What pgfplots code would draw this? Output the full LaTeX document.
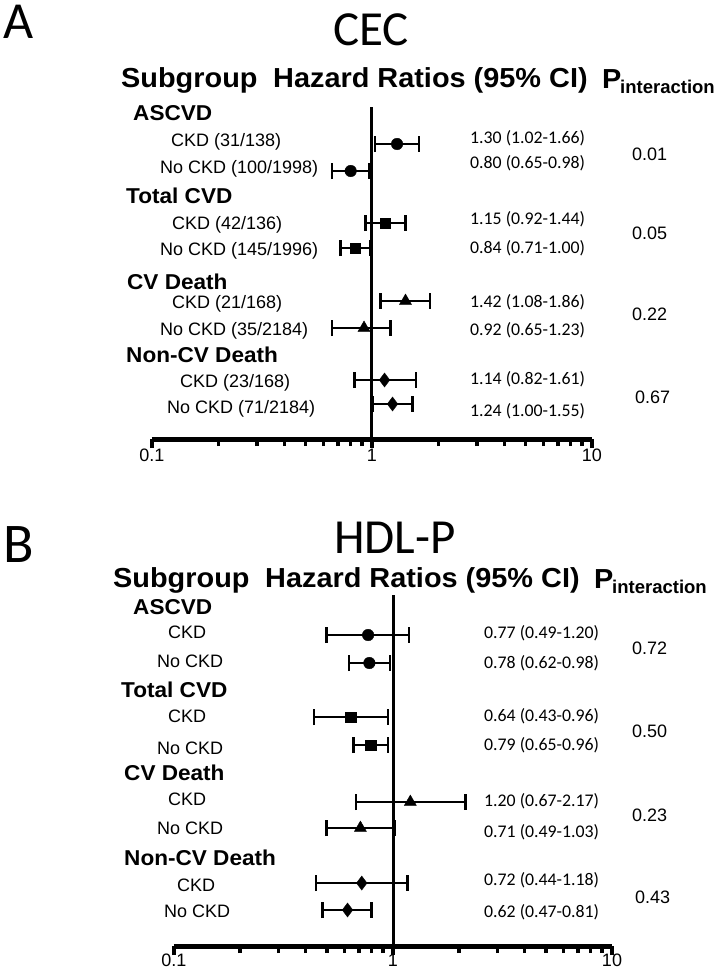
\documentclass[border=0pt]{standalone}
\usepackage{pgfplots}
\pgfplotsset{compat=1.18}
\usetikzlibrary{arrows.meta}
\usepackage{fontspec}
\setmainfont{Liberation Sans}
\newfontfamily\calfont{Carlito}
\newfontfamily\widefont[FakeStretch=1.05]{Liberation Sans}
\newcommand\hdr{\widefont\fontsize{27.5}{30}\selectfont\bfseries}
\newcommand\subf{\fontsize{18.5}{20}\selectfont\bfseries}
\newcommand\grp{\widefont\fontsize{21.5}{24}\selectfont\bfseries}
\newcommand\rowf{\fontsize{18}{20}\selectfont}
\newcommand\hrf{\calfont\fontsize{17.8}{20}\selectfont}
\newcommand\titf{\calfont\fontsize{49}{52}\selectfont}
\tikzset{
 ci/.style={black, line width=2.5pt, {Bar[width=16pt]}-{Bar[width=16pt]}},
 vline/.style={black, line width=3pt},
 hline/.style={black, line width=5pt, line cap=butt},
}
\pgfplotsset{
 every outer x axis line/.append style={line width=5pt, -},
 every x tick/.append style={line width=3.2pt, black},
 every minor x tick/.append style={line width=3.2pt, black},
}
\begin{document}
\begin{tikzpicture}
\useasboundingbox (0,0) rectangle (716pt,-970pt);
% ---------------- Panel A ----------------
\begin{axis}[xmode=log, xmin=0.1, xmax=10, scale only axis, clip=false,
  axis x line=bottom, axis y line=none,
  x axis line style={line width=5pt,-},
  xtick={0.1,1,10}, xticklabels={0.1,1,10},
  minor xtick={0.2,0.3,0.4,0.5,0.6,0.7,0.8,0.9,2,3,4,5,6,7,8,9},
  tick align=outside, major tick length=9pt, minor tick length=7pt,
  xticklabel style={font=\rowf, inner sep=0pt, yshift=-1pt},
  anchor=south west,
  at={(152pt,-439pt)}, width=440pt, height=332pt, ymin=-439, ymax=-107]
\addplot[hline] coordinates {(0.1,-439) (10,-439)};
\addplot[vline] coordinates {(1,-439) (1,-107)};
\addplot[ci] coordinates {(1.02,-144) (1.66,-144)};
\addplot[ci] coordinates {(0.65,-171) (0.98,-171)};
\addplot[ci] coordinates {(0.92,-223) (1.44,-223)};
\addplot[ci] coordinates {(0.71,-248) (1.00,-248)};
\addplot[ci] coordinates {(1.08,-301) (1.86,-301)};
\addplot[ci] coordinates {(0.65,-328) (1.23,-328)};
\addplot[ci] coordinates {(0.82,-380) (1.61,-380)};
\addplot[ci] coordinates {(1.00,-404) (1.55,-404)};
\addplot[only marks, mark=*, mark size=5.8pt, black] coordinates {(1.30,-144) (0.80,-171)};
\addplot[only marks, mark=square*, mark size=5.3pt, black] coordinates {(1.15,-223) (0.84,-248)};
\addplot[only marks, mark=triangle*, mark size=7pt, black] coordinates {(1.42,-301) (0.92,-328)};
\addplot[only marks, mark=diamond*, mark size=7pt, black] coordinates {(1.14,-380) (1.24,-404)};
\end{axis}
% ---------------- Panel B ----------------
\begin{axis}[xmode=log, xmin=0.1, xmax=10, scale only axis, clip=false,
  axis x line=bottom, axis y line=none,
  x axis line style={line width=5pt,-},
  xtick={0.1,1,10}, xticklabels={0.1,1,10},
  minor xtick={0.2,0.3,0.4,0.5,0.6,0.7,0.8,0.9,2,3,4,5,6,7,8,9},
  tick align=outside, major tick length=9pt, minor tick length=7pt,
  xticklabel style={font=\rowf, inner sep=0pt, yshift=1.5pt},
  anchor=south west,
  at={(174pt,-946pt)}, width=438pt, height=351pt, ymin=-946, ymax=-595]
\addplot[hline] coordinates {(0.1,-946) (10,-946)};
\addplot[vline] coordinates {(1,-946) (1,-595)};
\addplot[ci] coordinates {(0.49,-635) (1.20,-635)};
\addplot[ci] coordinates {(0.62,-663) (0.98,-663)};
\addplot[ci] coordinates {(0.43,-717) (0.96,-717)};
\addplot[ci] coordinates {(0.65,-745) (0.96,-745)};
\addplot[ci] coordinates {(0.67,-802) (2.17,-802)};
\addplot[ci] coordinates {(0.49,-828) (1.03,-828)};
\addplot[ci] coordinates {(0.44,-883) (1.18,-883)};
\addplot[ci] coordinates {(0.47,-910) (0.81,-910)};
\addplot[only marks, mark=*, mark size=5.8pt, black] coordinates {(0.77,-635) (0.78,-663)};
\addplot[only marks, mark=square*, mark size=5.3pt, black] coordinates {(0.64,-717) (0.79,-745)};
\addplot[only marks, mark=triangle*, mark size=7pt, black] coordinates {(1.20,-802) (0.71,-828)};
\addplot[only marks, mark=diamond*, mark size=7pt, black] coordinates {(0.72,-883) (0.62,-910)};
\end{axis}
% ---------------- Text ----------------
\begin{scope}[x=1pt,y=-1pt, every node/.style={inner sep=0pt, anchor=base west}]
% Panel A
\node at (3,38) {\calfont\fontsize{52}{54}\selectfont A};
\node[anchor=base] at (371,45) {\titf CEC};
\node at (121,87) {\hdr Subgroup};
\node at (273,87) {\hdr Hazard Ratios (95\% CI)};
\node at (602,88) {\hdr P};
\node at (620,93) {\subf interaction};
\node at (133,120) {\grp ASCVD};
\node at (126,203) {\grp Total CVD};
\node at (127,289) {\grp CV Death};
\node at (126,362) {\grp Non-CV Death};
\node at (171,146) {\rowf CKD (31/138)};
\node at (160,173) {\rowf No CKD (100/1998)};
\node at (172,229) {\rowf CKD (42/136)};
\node at (160,255) {\rowf No CKD (145/1996)};
\node at (172,308) {\rowf CKD (21/168)};
\node at (160,335) {\rowf No CKD (35/2184)};
\node at (180,387) {\rowf CKD (23/168)};
\node at (167,413) {\rowf No CKD (71/2184)};
\node at (470,143) {\hrf 1.30 (1.02-1.66)};
\node at (470,168) {\hrf 0.80 (0.65-0.98)};
\node at (470,224) {\hrf 1.15 (0.92-1.44)};
\node at (470,253) {\hrf 0.84 (0.71-1.00)};
\node at (470,307) {\hrf 1.42 (1.08-1.86)};
\node at (470,335) {\hrf 0.92 (0.65-1.23)};
\node at (470,384) {\hrf 1.14 (0.82-1.61)};
\node at (470,416) {\hrf 1.24 (1.00-1.55)};
\node at (632,160) {\rowf 0.01};
\node at (632,239) {\rowf 0.05};
\node at (632,320) {\rowf 0.22};
\node at (635,403) {\rowf 0.67};
% Panel B
\node at (3,562) {\calfont\fontsize{56}{58}\selectfont B};
\node[anchor=base] at (395,553) {\titf HDL-P};
\node at (113,587) {\hdr Subgroup};
\node at (265,587) {\hdr Hazard Ratios (95\% CI)};
\node at (594,588) {\hdr P};
\node at (612,593) {\subf interaction};
\node at (133,614) {\grp ASCVD};
\node at (121,697) {\grp Total CVD};
\node at (124,780) {\grp CV Death};
\node at (124,865) {\grp Non-CV Death};
\node at (168,638) {\rowf CKD};
\node at (157,667) {\rowf No CKD};
\node at (168,722) {\rowf CKD};
\node at (157,754) {\rowf No CKD};
\node at (168,805) {\rowf CKD};
\node at (157,834) {\rowf No CKD};
\node at (177,891) {\rowf CKD};
\node at (164,917) {\rowf No CKD};
\node at (484,638.5) {\hrf 0.77 (0.49-1.20)};
\node at (484,668.5) {\hrf 0.78 (0.62-0.98)};
\node at (484,721.5) {\hrf 0.64 (0.43-0.96)};
\node at (484,750.5) {\hrf 0.79 (0.65-0.96)};
\node at (484,806.5) {\hrf 1.20 (0.67-2.17)};
\node at (484,837.5) {\hrf 0.71 (0.49-1.03)};
\node at (484,885.5) {\hrf 0.72 (0.44-1.18)};
\node at (484,917.5) {\hrf 0.62 (0.47-0.81)};
\node at (632,654) {\rowf 0.72};
\node at (632,737) {\rowf 0.50};
\node at (632,821) {\rowf 0.23};
\node at (635,903) {\rowf 0.43};
\end{scope}
\end{tikzpicture}
\end{document}
